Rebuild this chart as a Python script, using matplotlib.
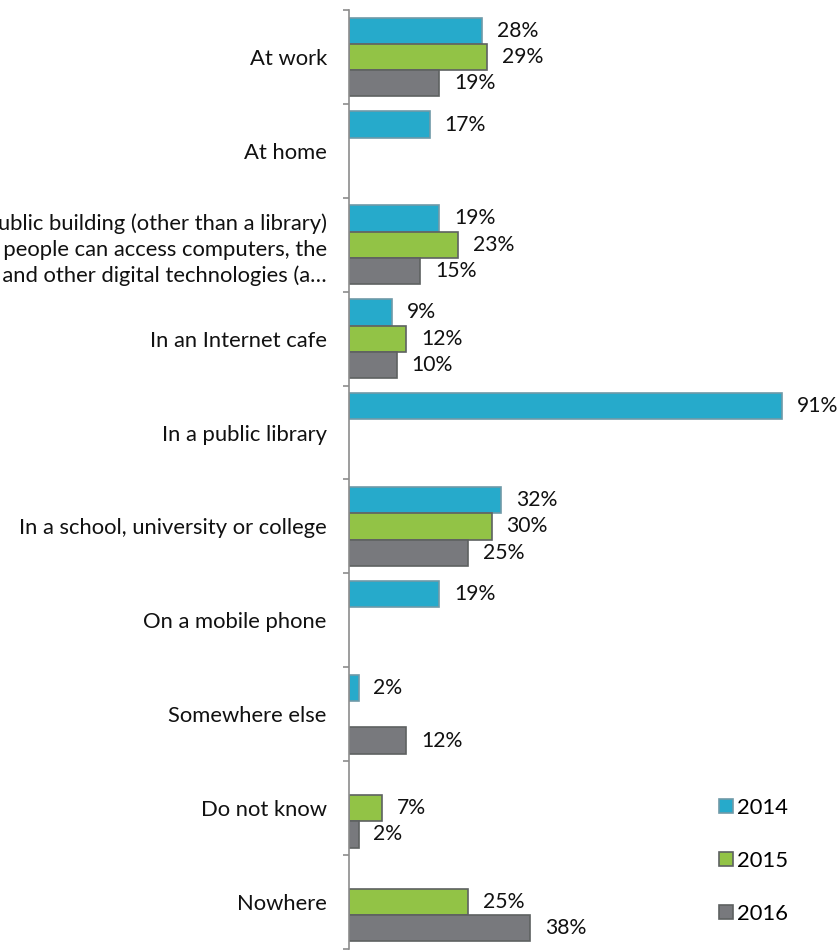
import numpy as np
import matplotlib
matplotlib.use("Agg")
import matplotlib.pyplot as plt
from matplotlib.patches import Patch

plt.rcParams['font.family'] = ['Lato', 'DejaVu Sans']

categories = [
    "At work",
    "At home",
    "In a public building (other than a library)\nwhere people can access computers, the\nInternet, and other digital technologies (a\u2026",
    "In an Internet cafe",
    "In a public library",
    "In a school, university or college",
    "On a mobile phone",
    "Somewhere else",
    "Do not know",
    "Nowhere",
]
years = ["2014", "2015", "2016"]
v2014 = [28, 17, 19, 9, 91, 32, 19, 2, None, None]
v2015 = [29, None, 23, 12, None, 30, None, None, 7, 25]
v2016 = [19, None, 15, 10, None, 25, None, 12, 2, 38]
colors = ["#26AACB", "#92C346", "#78797D"]
edges = ["#6F9AA8", "#5E6161", "#5E6161"]

fs = 15.8

fig = plt.figure(figsize=(8.39, 9.5), dpi=100)
ax = fig.add_axes([349 / 839, 1 / 950, 476 / 839, 939 / 950])

n = len(categories)
y = np.arange(n)
h = 0.28
for k, vals in enumerate([v2014, v2015, v2016]):
    off = (k - 1) * h
    for i, v in enumerate(vals):
        if v is None:
            continue
        ax.barh(y[i] + off, v, height=h, color=colors[k], edgecolor=edges[k], linewidth=1.2)
        ax.text(v + 3.1, y[i] + off, f"{v}%", va="center", ha="left", fontsize=15.2,
                color="#111111", clip_on=False)

ax.set_xlim(0, 100)
ax.set_ylim(n - 0.5, -0.5)
ax.set_yticks(y)
ax.set_yticklabels(categories, fontsize=fs, color="#111111", ha="right", linespacing=1.35)
ax.tick_params(axis="y", which="major", length=0, pad=16)
ax.set_yticks(np.arange(-0.5, n, 1), minor=True)
ax.tick_params(axis="y", which="minor", length=4.5, color="#8c8c8c", width=1.2)
ax.set_xticks([])
for s in ["top", "right", "bottom"]:
    ax.spines[s].set_visible(False)
ax.spines["left"].set_color("#8c8c8c")
ax.spines["left"].set_linewidth(1.2)

handles = [Patch(facecolor=colors[k], edgecolor=edges[k], linewidth=1.2, label=years[k]) for k in range(3)]
fig.legend(handles=handles, loc="upper left", bbox_to_anchor=(699 / 839, 1 - 778 / 950),
           frameon=False, fontsize=fs, labelspacing=1.5, handlelength=0.65, handleheight=0.65,
           handletextpad=0.2)

fig.savefig("out.png", dpi=100)
